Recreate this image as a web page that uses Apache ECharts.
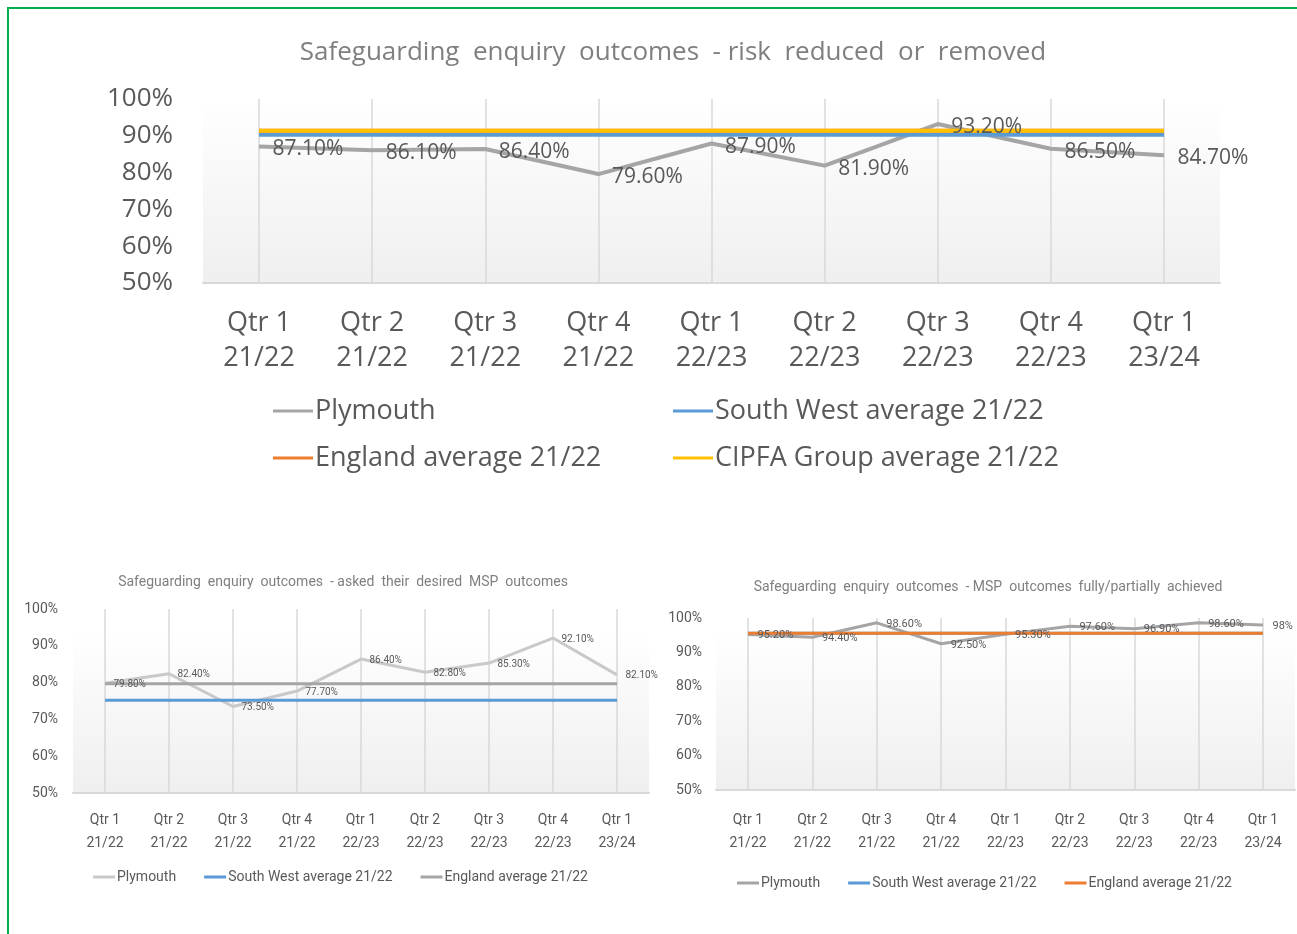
<!DOCTYPE html>
<html>
<head>
<meta charset="utf-8">
<script src="https://cdn.jsdelivr.net/npm/echarts@6/dist/echarts.min.js"></script>
<style>
  html, body { margin: 0; padding: 0; background: #fff; overflow: hidden; }
  .box { position: absolute; }
  #frame { position: absolute; left: 7px; top: 7px; width: 1310px; height: 940px;
           border: 2px solid #00b050; pointer-events: none; }
</style>
</head>
<body>
<div id="top" class="box" style="left:0;top:0;width:1297px;height:520px;"></div>
<div id="left" class="box" style="left:0;top:540px;width:660px;height:394px;"></div>
<div id="right" class="box" style="left:650px;top:540px;width:647px;height:394px;"></div>
<div id="frame"></div>
<script>
const quarters = ['Qtr 1\n21/22', 'Qtr 2\n21/22', 'Qtr 3\n21/22', 'Qtr 4\n21/22',
  'Qtr 1\n22/23', 'Qtr 2\n22/23', 'Qtr 3\n22/23', 'Qtr 4\n22/23', 'Qtr 1\n23/24'];
const yTicks = [50, 60, 70, 80, 90, 100];

// risk reduced or removed
const riskPlymouth = [87.1, 86.1, 86.4, 79.6, 87.9, 81.9, 93.2, 86.5, 84.7];
const riskSouthWest = [90.3, 90.3, 90.3, 90.3, 90.3, 90.3, 90.3, 90.3, 90.3];
const riskEngland = [91.4, 91.4, 91.4, 91.4, 91.4, 91.4, 91.4, 91.4, 91.4];
const riskCipfa = [91.4, 91.4, 91.4, 91.4, 91.4, 91.4, 91.4, 91.4, 91.4];

// asked their desired MSP outcomes
const askedPlymouth = [79.8, 82.4, 73.5, 77.7, 86.4, 82.8, 85.3, 92.1, 82.1];
const askedSouthWest = [75.2, 75.2, 75.2, 75.2, 75.2, 75.2, 75.2, 75.2, 75.2];
const askedEngland = [79.7, 79.7, 79.7, 79.7, 79.7, 79.7, 79.7, 79.7, 79.7];

// MSP outcomes fully/partially achieved
const achievedPlymouth = [95.2, 94.4, 98.6, 92.5, 95.3, 97.6, 96.9, 98.6, 98];
const achievedSouthWest = [95.6, 95.6, 95.6, 95.6, 95.6, 95.6, 95.6, 95.6, 95.6];
const achievedEngland = [95.6, 95.6, 95.6, 95.6, 95.6, 95.6, 95.6, 95.6, 95.6];

const pct = function (p) {
  const v = p.value;
  return (Number.isInteger(v) ? v : v.toFixed(2)) + '%';
};

function buildOption (cfg) {
  const f = cfg.font;
  const series = [];
  cfg.series.forEach(function (s, i) {
    series.push({
      name: s.name,
      type: 'line',
      xAxisIndex: 1,
      yAxisIndex: 1,
      data: s.data,
      symbol: 'none',
      z: 2 + i,
      lineStyle: { color: s.color, width: cfg.lineWidth },
      itemStyle: { color: s.color }
    });
    // data labels sit above every line, as in the original
    if (s.labels) {
      series.push({
        name: s.name + ' labels',
        type: 'line',
        xAxisIndex: 1,
        yAxisIndex: 1,
        data: s.data,
        symbol: 'circle',
        symbolSize: 1,
        showSymbol: true,
        z: 20,
        lineStyle: { width: 0, opacity: 0 },
        itemStyle: { color: 'transparent' },
        label: {
          show: true,
          position: 'right',
          distance: cfg.labelDistance,
          offset: [0, cfg.labelDrop],
          formatter: pct,
          color: '#595959',
          fontFamily: f,
          fontSize: cfg.labelSize
        }
      });
    }
  });
  return {
    animation: false,
    title: {
      text: cfg.title,
      left: cfg.titleX,
      top: cfg.titleY,
      textAlign: 'center',
      textStyle: { color: '#7f7f7f', fontWeight: 'normal', fontFamily: f, fontSize: cfg.titleSize }
    },
    legend: cfg.legends.map(function (lg) {
      return {
        data: lg.data,
        left: lg.left,
        top: lg.top,
        orient: lg.orient,
        itemGap: lg.itemGap,
        icon: 'rect',
        itemWidth: cfg.iconWidth,
        itemHeight: cfg.iconHeight,
        selectedMode: false,
        textStyle: { color: '#595959', fontFamily: f, fontSize: cfg.legendSize, lineHeight: cfg.legendLine, padding: [0, 0, 0, -3] }
      };
    }),
    grid: [
      Object.assign({ show: true, borderWidth: 0,
        backgroundColor: { type: 'linear', x: 0, y: 0, x2: 0, y2: 1,
          colorStops: [{ offset: 0, color: '#ffffff' }, { offset: 1, color: '#efefef' }] } }, cfg.bgGrid),
      cfg.mainGrid
    ],
    xAxis: [
      { gridIndex: 0, type: 'category', data: quarters, boundaryGap: true,
        axisLine: { show: true, lineStyle: { color: '#d9d9d9', width: 2 } },
        axisTick: { show: false }, axisLabel: { show: false }, splitLine: { show: false } },
      { gridIndex: 1, type: 'category', data: quarters, boundaryGap: false,
        axisLine: { show: false }, axisTick: { show: false },
        axisLabel: { color: '#595959', fontFamily: f, fontSize: cfg.axisSize, lineHeight: cfg.axisLine, margin: cfg.xMargin, interval: 0 },
        splitLine: { show: true, lineStyle: { color: '#d9d9d9', width: 1.5 } } }
    ],
    yAxis: [
      { gridIndex: 0, type: 'value', min: 50, max: 100, show: false },
      { gridIndex: 1, type: 'value', min: yTicks[0], max: yTicks[yTicks.length - 1], interval: 10,
        axisLine: { show: false }, axisTick: { show: false }, splitLine: { show: false },
        axisLabel: { formatter: '{value}%', color: '#595959', fontFamily: f, fontSize: cfg.yAxisSize || cfg.axisSize, margin: cfg.yMargin } }
    ],
    series: series
  };
}

const topChart = echarts.init(document.getElementById('top'));
topChart.setOption(buildOption({
  font: 'Open Sans',
  title: 'Safeguarding  enquiry  outcomes  - risk  reduced  or  removed',
  titleX: 668, titleY: 35, titleSize: 26,
  lineWidth: 4, labelDistance: 13, labelDrop: 3, labelSize: 21,
  axisSize: 27, yAxisSize: 26, axisLine: 35, xMargin: 23, yMargin: 86,
  iconWidth: 40, iconHeight: 3, legendSize: 27, legendLine: 30,
  bgGrid: { left: 203, right: 77, top: 99, bottom: 237 },
  mainGrid: { left: 259, right: 133, top: 99, bottom: 237 },
  legends: [
    { data: ['Plymouth', 'England average 21/22'], left: 268, top: 391, orient: 'vertical', itemGap: 17 },
    { data: ['South West average 21/22', 'CIPFA Group average 21/22'], left: 668, top: 391, orient: 'vertical', itemGap: 17 }
  ],
  series: [
    { name: 'Plymouth', data: riskPlymouth, color: '#a5a5a5', labels: true },
    { name: 'South West average 21/22', data: riskSouthWest, color: '#5b9bd5' },
    { name: 'England average 21/22', data: riskEngland, color: '#ed7d31' },
    { name: 'CIPFA Group average 21/22', data: riskCipfa, color: '#ffc000' }
  ]
}));

const narrow = '"Liberation Sans Narrow", "Roboto", sans-serif';

const leftChart = echarts.init(document.getElementById('left'));
leftChart.setOption(buildOption({
  font: narrow,
  title: 'Safeguarding  enquiry  outcomes  - asked  their  desired  MSP  outcomes',
  titleX: 338, titleY: 30, titleSize: 14,
  lineWidth: 3, labelDistance: 8, labelDrop: 1, labelSize: 10,
  axisSize: 14, axisLine: 23, xMargin: 16, yMargin: 47,
  iconWidth: 22, iconHeight: 3, legendSize: 14, legendLine: 16,
  bgGrid: { left: 73, right: 11, top: 90, bottom: 141 },
  mainGrid: { left: 105, right: 43, top: 69, bottom: 141 },
  legends: [
    { data: ['Plymouth', 'South West average 21/22', 'England average 21/22'], left: 88, top: 324, orient: 'horizontal', itemGap: 28 }
  ],
  series: [
    { name: 'Plymouth', data: askedPlymouth, color: '#c9c9c9', labels: true },
    { name: 'South West average 21/22', data: askedSouthWest, color: '#5b9bd5' },
    { name: 'England average 21/22', data: askedEngland, color: '#a5a5a5' }
  ]
}));

const rightChart = echarts.init(document.getElementById('right'));
rightChart.setOption(buildOption({
  font: narrow,
  title: 'Safeguarding  enquiry  outcomes  - MSP  outcomes  fully/partially  achieved',
  titleX: 333, titleY: 35, titleSize: 14,
  lineWidth: 3, labelDistance: 9, labelDrop: 1, labelSize: 11,
  axisSize: 14, axisLine: 23, xMargin: 19, yMargin: 46,
  iconWidth: 22, iconHeight: 3, legendSize: 14, legendLine: 16,
  bgGrid: { left: 66, right: 2, top: 90, bottom: 144 },
  mainGrid: { left: 98, right: 34, top: 78, bottom: 144 },
  legends: [
    { data: ['Plymouth', 'South West average 21/22', 'England average 21/22'], left: 82, top: 330, orient: 'horizontal', itemGap: 28 }
  ],
  series: [
    { name: 'Plymouth', data: achievedPlymouth, color: '#a5a5a5', labels: true },
    { name: 'South West average 21/22', data: achievedSouthWest, color: '#5b9bd5' },
    { name: 'England average 21/22', data: achievedEngland, color: '#ed7d31' }
  ]
}));
</script>
</body>
</html>
